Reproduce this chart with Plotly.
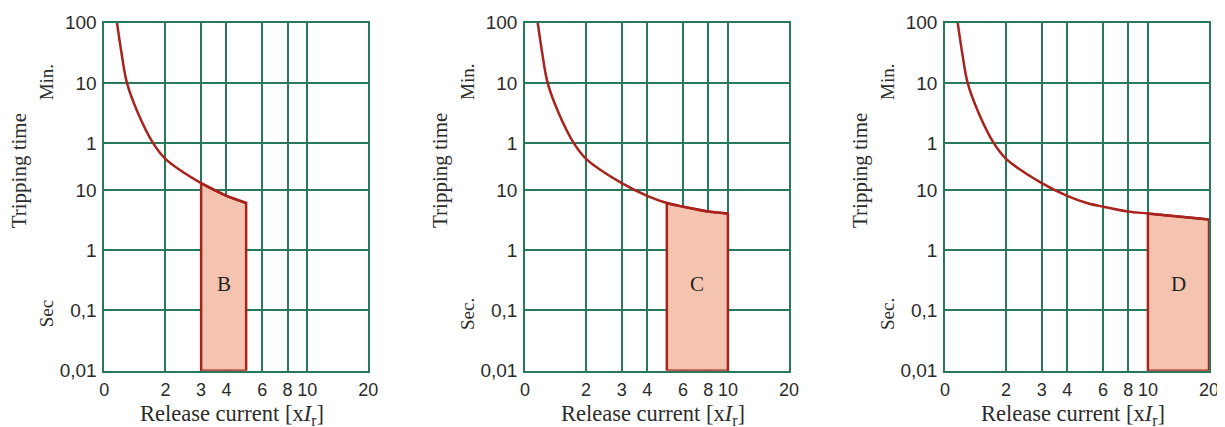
import math
import plotly.graph_objects as go

# Tripping curve (current in multiples of In, time in seconds)
currents = [1.155, 1.216, 1.293, 1.459, 1.74, 2.0, 3.0, 4.0, 5.0, 6.0, 8.0, 10.0, 15.0, 20.0]
times_s = [6000, 1870, 600, 196, 60, 33, 13, 8.0, 6.1, 5.3, 4.4, 4.07, 3.55, 3.24]

# Trip characteristic regions
region_labels = ["B", "C", "D"]
region_start = [3.0, 5.0, 10.0]
region_end = [5.0, 10.0, 20.0]
sec_labels = ["Sec", "Sec.", "Sec."]

# Axis ticks
x_tickvals = [1, 2, 3, 4, 6, 8, 10, 20]
x_ticktext = ["0", "2", "3", "4", "6", "8", "10", "20"]
y_tickvals = [0.01, 0.1, 1, 10, 60, 600, 6000]
y_ticktext = ["0,01", "0,1", "1", "10", "1", "10", "100"]

# the page body has an 8px margin, so the figure is drawn 8px smaller
OFF = 8
W, H = 1225 - OFF, 427 - OFF
GRID = "#27795a"
CURVE = "#a8231d"
FILL = "#f5c4b1"
TXT = "#2b2b2b"
SANS = "Liberation Sans, Arial, sans-serif"
SERIF = "Liberation Serif, Times New Roman, serif"

panel_left = [104.3, 525.0, 945.0]
panel_w = 264.0
top_px, bot_px = 22.7, 370.7


def px(x):
    return (x - OFF) / W


def py(y):
    return 1 - (y - OFF) / H


fig = go.Figure()
layout = dict(
    width=W, height=H, margin=dict(l=0, r=0, t=0, b=0, autoexpand=False),
    paper_bgcolor="white", plot_bgcolor="white", showlegend=False,
    template="none",
)
annotations = []


def label(x, y, text, size, angle=0):
    return dict(
        x=x, y=y, xref="paper", yref="paper", text=text, textangle=angle,
        showarrow=False, xanchor="center", yanchor="middle",
        font=dict(family=SERIF, size=size, color=TXT),
    )


for i in range(3):
    sfx = "" if i == 0 else str(i + 1)
    xa, ya = "x" + sfx, "y" + sfx
    xs, xe = region_start[i], region_end[i]

    # curve up to the region end
    cx = [c for c in currents if c <= xe]
    cy = [t for c, t in zip(currents, times_s) if c <= xe]

    # filled region
    fx = [xs] + [c for c in currents if xs <= c <= xe] + [xe, xs]
    fy = [0.01] + [t for c, t in zip(currents, times_s) if xs <= c <= xe] + [0.01, 0.01]
    fig.add_trace(go.Scatter(
        x=fx, y=fy, xaxis=xa, yaxis=ya, mode="lines", fill="toself",
        fillcolor=FILL, line=dict(color=CURVE, width=2.5), hoverinfo="skip",
    ))
    fig.add_trace(go.Scatter(
        x=cx, y=cy, xaxis=xa, yaxis=ya, mode="lines",
        line=dict(color=CURVE, width=2.5, shape="spline", smoothing=1.0),
        hoverinfo="skip",
    ))

    common = dict(
        showgrid=True, gridcolor=GRID, gridwidth=1.6, showline=True,
        linecolor=GRID, linewidth=1.6, mirror=True, ticks="", zeroline=False,
        automargin=False,
    )
    layout["xaxis" + sfx] = dict(
        type="log", range=[0, math.log10(20)],
        domain=[px(panel_left[i]), px(panel_left[i] + panel_w)], anchor=ya,
        tickvals=x_tickvals, ticktext=x_ticktext, ticklabelstandoff=2,
        tickfont=dict(family=SANS, size=18, color=TXT), **common,
    )
    layout["yaxis" + sfx] = dict(
        type="log", range=[-2, math.log10(6000)],
        domain=[py(bot_px), py(top_px)], anchor=xa,
        tickvals=y_tickvals, ticktext=y_ticktext, ticklabelstandoff=2,
        tickfont=dict(family=SANS, size=19, color=TXT), **common,
    )

    # region label
    annotations.append(dict(
        x=math.log10(math.sqrt(xs * xe)), y=math.log10(0.27), xref=xa, yref=ya,
        text=region_labels[i], showarrow=False,
        font=dict(family=SERIF, size=21, color="#222"),
    ))
    # axis titles
    annotations.append(label(px(panel_left[i] + 128), py(414.5),
                             "Release current [x<i>I</i><sub>r</sub>]", 22.5))
    annotations.append(label(px(panel_left[i] - 85), py(171), "Tripping time", 21, -90))
    annotations.append(label(px(panel_left[i] - 58), py(82), "Min.", 19, -90))
    annotations.append(label(px(panel_left[i] - 58), py(314), sec_labels[i], 19, -90))

layout["annotations"] = annotations
fig.update_layout(**layout)
fig.write_html("out.html")
